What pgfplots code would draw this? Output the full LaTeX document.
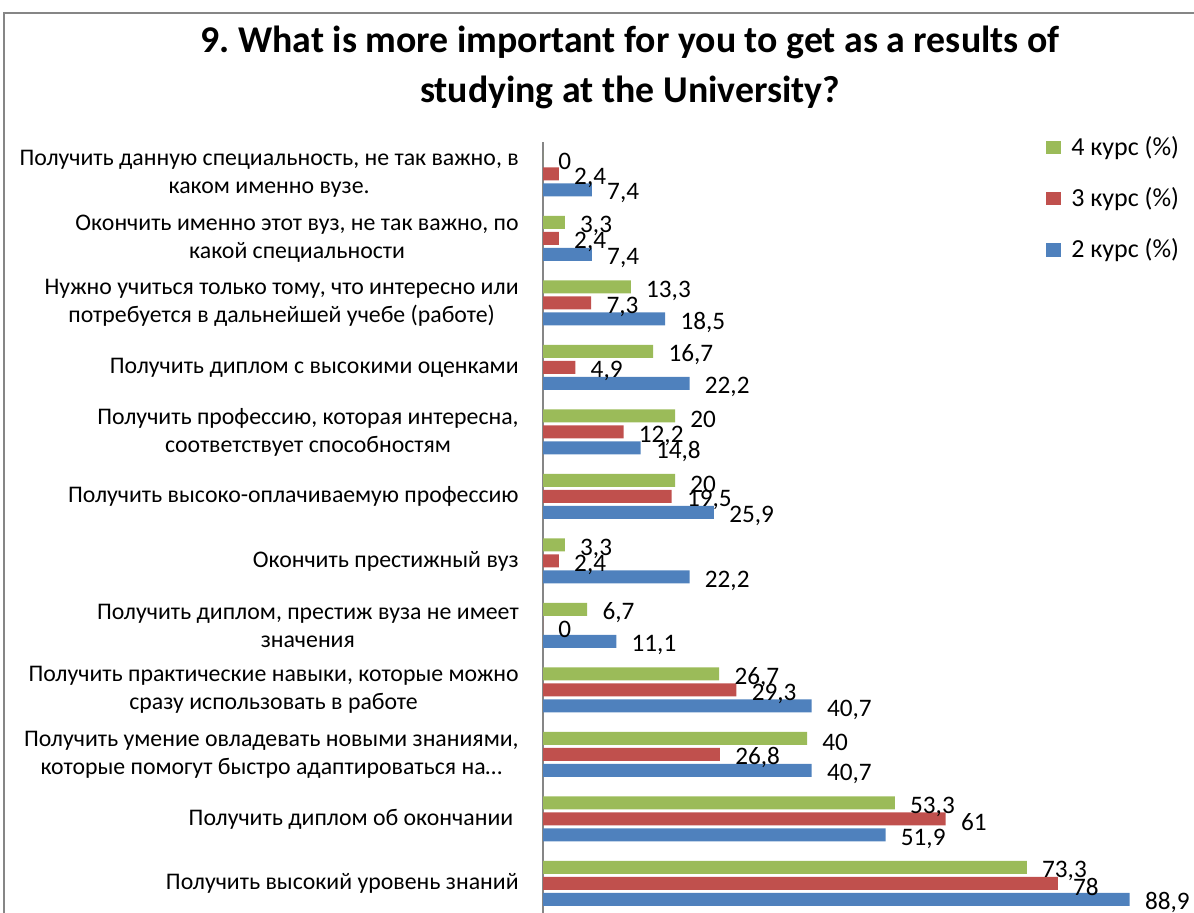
\documentclass[border=0pt]{standalone}
\usepackage{fontspec}
\setmainfont{Carlito}
\usepackage{pgfplots}
\pgfplotsset{compat=1.18}
\definecolor{cG}{HTML}{9BBB59}
\definecolor{cR}{HTML}{C0504D}
\definecolor{cB}{HTML}{4F81BD}
\definecolor{axgray}{HTML}{868686}
\begin{document}
\frenchspacing
\begin{tikzpicture}
\begin{axis}[
  at={(271.5pt,-1.375pt)}, anchor=south west,
  scale only axis, width=330pt, height=387pt,
  xbar, bar width=6.5pt,
  xmin=0, xmax=100, ymin=-0.5, ymax=11.5,
  axis x line=none, axis y line*=left,
  y axis line style={draw=axgray, line width=0.9pt},
  ytick={0,1,2,3,4,5,6,7,8,9,10,11}, major tick length=0pt,
  yticklabels={
    {Получить высокий уровень знаний},
    {Получить диплом об окончании\ },
    {Получить умение овладевать новыми знаниями,\\которые помогут быстро адаптироваться на…},
    {Получить практические навыки, которые можно\\сразу использовать в работе},
    {Получить диплом, престиж вуза не имеет\\значения},
    {Окончить престижный вуз},
    {Получить высоко-оплачиваемую профессию},
    {Получить профессию, которая интересна,\\соответствует способностям},
    {Получить диплом с высокими оценками},
    {Нужно учиться только тому, что интересно или\\потребуется в дальнейшей учебе (работе)},
    {Окончить именно этот вуз, не так важно, по\\какой специальности},
    {Получить данную специальность, не так важно, в\\каком именно вузе.}
  },
  yticklabel style={font=\fontsize{11.9}{14}\selectfont, align=center, anchor=east, inner sep=0pt, xshift=-12pt},
  point meta=x,
  nodes near coords={\pgfmathprintnumber[use comma,assume math mode=true]{\pgfplotspointmeta}},
  nodes near coords style={anchor=west, inner sep=0pt, xshift=7.5pt, yshift=-1.75pt, font=\fontsize{12.6}{14}\selectfont, text=black},
  clip=false,
  legend style={at={(axis description cs:0.762,1.0125)}, anchor=north west, draw=none, fill=none, inner sep=0pt,
    font=\fontsize{13}{15}\selectfont, row sep=10.5pt,
    /tikz/every odd column/.append style={column sep=3pt}},
  legend cell align=left,
  legend image code/.code={\fill[#1,draw=none] (0pt,-3.5pt) rectangle (7.5pt,3.25pt);},
]
\addplot[fill=cG, draw=none, bar shift=8pt] coordinates {
  (73.3,0) (53.3,1) (40,2) (26.7,3) (6.7,4) (3.3,5) (20,6) (20,7) (16.7,8) (13.3,9) (3.3,10) (0,11)};
\addplot[fill=cR, draw=none, bar shift=0pt] coordinates {
  (78,0) (61,1) (26.8,2) (29.3,3) (0,4) (2.4,5) (19.5,6) (12.2,7) (4.9,8) (7.3,9) (2.4,10) (2.4,11)};
\addplot[fill=cB, draw=none, bar shift=-8pt] coordinates {
  (88.9,0) (51.9,1) (40.7,2) (40.7,3) (11.1,4) (22.2,5) (25.9,6) (14.8,7) (22.2,8) (18.5,9) (7.4,10) (7.4,11)};
\legend{4 курс (\%), 3 курс (\%), 2 курс (\%)}
\end{axis}
\node[font=\bfseries\fontsize{18.9}{25}\selectfont, align=center] at (315pt,423pt)
  {9. What is more important for you to get as a results of\\studying at the University?};
\draw[axgray, line width=0.75pt] (2pt,-5pt) -- (2pt,450pt) -- (605pt,450pt);
\pgfresetboundingbox
\path (0,0) rectangle (597pt,456.5pt);
\end{tikzpicture}
\end{document}
